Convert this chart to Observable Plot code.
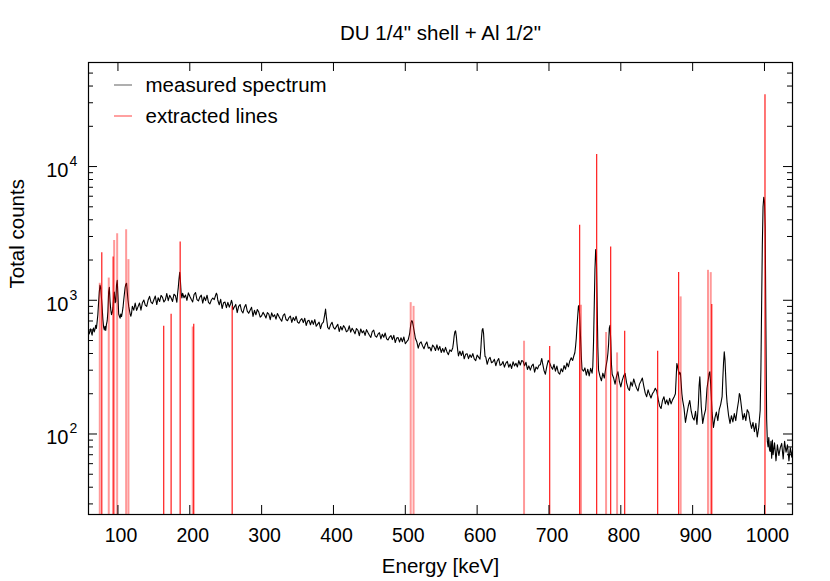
<!DOCTYPE html>
<html><head><meta charset="utf-8">
<script src="https://cdn.jsdelivr.net/npm/d3@7"></script>
<script src="https://cdn.jsdelivr.net/npm/@observablehq/plot@0.6"></script>
<style>body{margin:0;background:#fff}</style>
</head><body><div id="chart"></div>
<script>
const title = 'DU 1/4" shell + Al 1/2"';
const xLabel = "Energy [keV]";
const yLabel = "Total counts";
const seriesNames = ["measured spectrum", "extracted lines"];
const xDomain = [59, 1039];
const yDomain = [25, 60000];
const xTicks = [100, 200, 300, 400, 500, 600, 700, 800, 900, 1000];
const yMajorTicks = [100, 1000, 10000];
const yTickBase = ["10", "10", "10"];
const yTickExp = ["2", "3", "4"];
const yMinorTicks = [30,40,50,60,70,80,90,200,300,400,500,600,700,800,900,2000,3000,4000,5000,6000,7000,8000,9000,20000,30000,40000,50000];

// measured spectrum: [energy keV, counts]
const spectrumPoints = [[59,590],[60,560],[61,585],[62,612],[63,575],[64,548],[65,596],[66,620],[67,580],[68,605],[69,650],[70,615],[71,690],[72,780],[73,950],[74,1150],[75,1300],[76,1240],[77,1050],[78,890],[79,720],[80,630],[81,600],[82,640],[83,595],[84,660],[85,700],[86,820],[87,1150],[88,1250],[89,980],[90,850],[91,780],[92,810],[93,880],[94,1050],[95,1150],[96,960],[97,980],[98,1300],[99,1410],[100,1080],[101,790],[102,760],[103,735],[104,790],[105,755],[106,810],[107,880],[108,1000],[109,1120],[110,1250],[111,1320],[112,1340],[113,1150],[114,1000],[115,900],[116,840],[117,790],[118,760],[119,805],
[120,903],[122,844],[124,953],[126,840],[128,897],[130,955],[132,844],[134,957],[136,1005],[138,920],[140,900],[142,1004],[144,1070],[146,968],[148,944],[150,1010],[152,1075],[154,929],[156,1045],[158,979],[160,1087],[162,1050],[164,971],[166,1006],[168,1124],[170,993],[172,1090],[174,1040],[176,980],[178,1110],[180,1081],[182,966],[183,1120],[184,1250],[185,1450],[186,1620],[187,1380],[188,1120],[189,1040],
[190,1129],[192,1044],[194,1096],[196,999],[198,1136],[200,1071],[202,1016],[204,971],[206,1105],[208,1142],[210,1013],[212,988],[214,1056],[216,1092],[218,953],[220,1061],[222,995],[224,1091],[226,965],[228,940],[230,1005],[232,1040],[234,1010],[236,1090],[237,1130],[238,1100],[239,1000],
[241,926],[243,1017],[245,868],[247,957],[249,969],[251,880],[253,966],[255,888],[257,950],[258,1000],[259,960],[260,851],[262,891],[264,931],[266,809],[268,901],[270,930],[272,836],[274,804],[276,885],[278,930],[280,830],[282,799],[284,843],[286,887],[288,757],[290,842],[292,779],[294,853],[296,816],[298,747],[300,766],
[302,812],[304,778],[306,737],[308,809],[310,787],[312,716],[314,805],[316,753],[318,779],[320,722],[322,797],[324,758],[326,724],[328,697],[330,772],[332,792],[334,718],[336,703],[338,741],[340,761],[342,683],[344,743],[346,705],[348,759],[350,687],[352,673],[354,710],[356,729],[358,681],[360,734],[362,648],[364,700],[366,708],[368,656],[370,707],[372,661],[374,717],[376,639],[378,663],[380,686],[382,614],[384,670],[386,687],[388,790],[389,860],[390,760],[392,627],[394,609],[396,657],[398,685],[400,626],[402,608],[404,635],[406,662],[408,584],[410,637],[412,599],[414,646],[416,623],[418,581],[420,593],[422,644],[424,578],[426,618],[428,591],[430,561],[432,615],[434,597],[436,543],[438,610],[440,571],[442,591],[444,546],[446,603],[448,574],[450,548],[452,527],[454,582],[456,598],[458,542],[460,530],[462,558],[464,572],[466,514],[468,558],[470,529],[472,569],[474,515],[476,505],[478,531],[480,545],[482,508],[484,547],[486,483],[488,521],[490,526],[492,487],[494,525],[496,490],[498,531],[500,473],[502,490],[504,505],[506,560],[507,620],[508,680],[509,705],[510,690],[511,650],[512,600],[513,560],[514,520],
[516,490],[518,438],[520,476],[522,488],[524,456],[526,434],[528,468],[530,488],[532,438],[534,445],[536,418],[538,462],[540,448],[542,421],[544,464],[546,424],[548,452],[550,407],[552,436],[554,409],[556,445],[558,411],[560,392],[562,426],[564,414],[566,440],[567,480],[568,540],[569,580],[570,590],[571,540],[572,470],[573,420],[574,384],[576,416],[578,386],[580,417],[582,365],[584,394],[586,398],[588,366],[590,391],[592,374],[594,399],[596,365],[598,354],[600,389],[602,376],[604,363],[605,420],[606,520],[607,600],[608,615],[609,560],[610,450],[611,380],
[612,377],[614,332],[616,362],[618,374],[620,341],[622,347],[624,362],[626,324],[628,352],[630,367],[632,326],[634,331],[636,348],[638,316],[640,339],[642,349],[644,316],[646,334],[648,309],[650,347],[652,323],[654,338],[656,317],[658,354],[660,328],[662,354],[664,350],[666,324],[668,344],[670,304],[672,323],[674,300],[676,323],[678,333],[680,290],[682,317],[684,306],[686,326],[688,330],[689,350],[690,367],[691,340],[693,300],[695,280],[697,320],[699,355],[701,340],[703,318],[705,305],[707,332],[709,295],[711,322],[713,288],[715,280],[717,308],[719,292],[721,325],[723,305],[725,340],[727,318],[729,352],[731,372],[733,355],[735,390],[736,405],[737,450],[738,520],[739,640],[740,760],[741,900],[742,918],[743,700],[744,520],[745,380],[746,305],[748,295],[750,312],[752,275],[754,305],[756,272],[758,310],[760,285],[761,320],[762,480],[763,900],[764,1700],[765,2390],[766,2100],[767,1000],[768,450],[769,300],[771,270],[773,250],[775,285],[777,262],[779,310],[781,360],[782,400],[783,470],[784,620],[785,650],[786,500],[787,330],[788,280],[790,262],[792,236],[794,270],[796,292],[798,248],[800,225],[802,252],[804,272],[806,284],[808,242],[810,220],[812,212],[814,245],[816,228],[818,258],[820,236],[822,220],[824,210],[826,236],[828,248],[830,262],[832,228],[834,202],[836,190],[838,214],[840,198],[842,186],[844,200],[846,208],[848,220],[850,210],[852,182],[854,162],[856,155],[858,178],[860,190],[862,168],[864,180],[866,165],[868,185],[870,168],[872,180],[874,188],[876,200],[877,260],[878,337],[879,320],[880,300],[881,278],[882,290],[883,284],[884,240],[885,200],[886,180],[888,156],[890,122],[892,142],[894,162],[896,178],[898,148],[900,133],[902,127],[904,148],[906,118],[908,168],[909,230],[910,268],[911,210],[912,160],[914,120],[916,138],[918,152],[920,220],[921,240],[922,260],[923,285],[924,292],[925,240],[926,190],[927,145],[929,112],[931,132],[933,146],[935,126],[937,152],[939,166],[941,190],[942,260],[943,340],[944,411],[945,360],[946,270],[947,200],[948,170],[950,138],[952,120],[954,137],[956,123],[958,142],[960,126],[962,152],[964,178],[965,201],[966,195],[968,158],[970,128],[972,142],[974,126],[976,152],[978,145],[980,123],[982,110],[984,122],[986,104],[988,120],[990,95],[992,112],[994,150],[995,300],[996,900],[997,2600],[998,5000],[999,5900],[1000,5500],[1001,3500],[1002,600],[1003,130],[1004,88],[1005,80],[1006,94],[1007,76],[1008,74],[1009,88],[1010,66],[1011,90],[1012,70],[1014,86],[1016,63],[1018,83],[1020,69],[1022,79],[1024,85],[1026,65],[1028,88],[1030,73],[1032,83],[1034,63],[1036,79],[1038,67],[1039,76]];

// extracted lines: energy keV, counts, style (1 = strong red, 0 = faint red)
const lineEnergy = [74.7, 77.5, 87.2, 93.3, 94.7, 98.9, 111.4, 114.6, 163.7, 174.0, 186.6, 204.1, 205.5, 259.0, 507.5, 511.5, 665.3, 701.0, 742.7, 744.6, 766.4, 779.5, 785.9, 794.8, 805.4, 851.3, 880.5, 883.3, 921.4, 925.2, 926.6, 1000.7];
const lineCounts = [1340, 2270, 1466, 2103, 2805, 3150, 3375, 2013, 640, 787, 2723, 631, 662, 902, 960, 900, 494, 451, 3634, 918, 12300, 574, 2500, 404, 587, 416, 1610, 1060, 1675, 1610, 930, 34400];
const lineStrong = [0, 1, 0, 1, 0, 0, 0, 0, 1, 1, 1, 0, 1, 1, 0, 0, 0, 1, 1, 0, 1, 0, 1, 0, 1, 1, 1, 0, 0, 0, 1, 1];

const spectrum = spectrumPoints.map(([e, c]) => ({e, c}));
const lines = lineEnergy.map((e, i) => ({e, c: lineCounts[i], strong: lineStrong[i] === 1}));

const W = 830, H = 581, mL = 88, mR = 38, mT = 62, mB = 67;
const fw = W - mL - mR, fh = H - mT - mB;
const font = "'Liberation Sans', Arial, Helvetica, sans-serif";
const majorLen = 9, minorLen = 5;
const txt = {fill: "black", lineAnchor: "middle"};

const chart = Plot.plot({
  width: W, height: H,
  marginLeft: mL, marginRight: mR, marginTop: mT, marginBottom: mB,
  style: {fontFamily: font, background: "white", color: "black", overflow: "visible"},
  x: {domain: xDomain, axis: null},
  y: {type: "log", domain: yDomain, axis: null},
  marks: [
    Plot.line(spectrum, {x: "e", y: "c", stroke: "black", strokeWidth: 1.1}),
    Plot.ruleX(lines.filter(d => !d.strong), {x: "e", y1: yDomain[0], y2: "c", stroke: "red", strokeWidth: 2, strokeOpacity: 0.4}),
    Plot.ruleX(lines.filter(d => d.strong), {x: "e", y1: yDomain[0], y2: "c", stroke: "red", strokeWidth: 1.2, strokeOpacity: 0.9}),
    // ticks (inward, mirrored)
    Plot.tickX(xTicks, {x: d => d, insetTop: fh - majorLen, stroke: "black"}),
    Plot.tickX(xTicks, {x: d => d, insetBottom: fh - majorLen, stroke: "black"}),
    Plot.tickY(yMajorTicks, {y: d => d, insetRight: fw - majorLen, stroke: "black"}),
    Plot.tickY(yMajorTicks, {y: d => d, insetLeft: fw - majorLen, stroke: "black"}),
    Plot.tickY(yMinorTicks, {y: d => d, insetRight: fw - minorLen, stroke: "black"}),
    Plot.tickY(yMinorTicks, {y: d => d, insetLeft: fw - minorLen, stroke: "black"}),
    // tick labels
    Plot.text(xTicks, {...txt, x: d => d, text: d => String(d), frameAnchor: "bottom", dy: 21, dx: 3, fontSize: 19.5}),
    Plot.text(yMajorTicks, {...txt, y: d => d, text: (d, i) => yTickBase[i], frameAnchor: "left", textAnchor: "end", dx: -20, dy: 4, fontSize: 20}),
    Plot.text(yMajorTicks, {...txt, y: d => d, text: (d, i) => yTickExp[i], frameAnchor: "left", textAnchor: "start", dx: -19, dy: -5, fontSize: 14}),
    // titles
    Plot.text([title], {...txt, frameAnchor: "top", dy: -29, fontSize: 20.5}),
    Plot.text([xLabel], {...txt, frameAnchor: "bottom", dy: 52, fontSize: 20.5}),
    Plot.text([yLabel], {...txt, frameAnchor: "left", dx: -71, rotate: -90, fontSize: 20.5}),
    // legend labels
    Plot.text([seriesNames[0]], {...txt, frameAnchor: "top-left", dx: 57, dy: 23, textAnchor: "start", fontSize: 20.5}),
    Plot.text([seriesNames[1]], {...txt, frameAnchor: "top-left", dx: 57, dy: 54, textAnchor: "start", fontSize: 20.5}),
    Plot.frame({stroke: "black", strokeWidth: 1.2})
  ]
});
document.getElementById("chart").appendChild(chart);

// legend samples
const svg = d3.select(chart);
const legendColors = ["#7a7a7a", "#ff6060"];
legendColors.forEach((c, i) => {
  svg.append("line")
    .attr("x1", mL + 26).attr("x2", mL + 44)
    .attr("y1", mT + 23 + i * 31).attr("y2", mT + 23 + i * 31)
    .attr("stroke", c).attr("stroke-width", 1.2);
});
</script>
</body></html>
